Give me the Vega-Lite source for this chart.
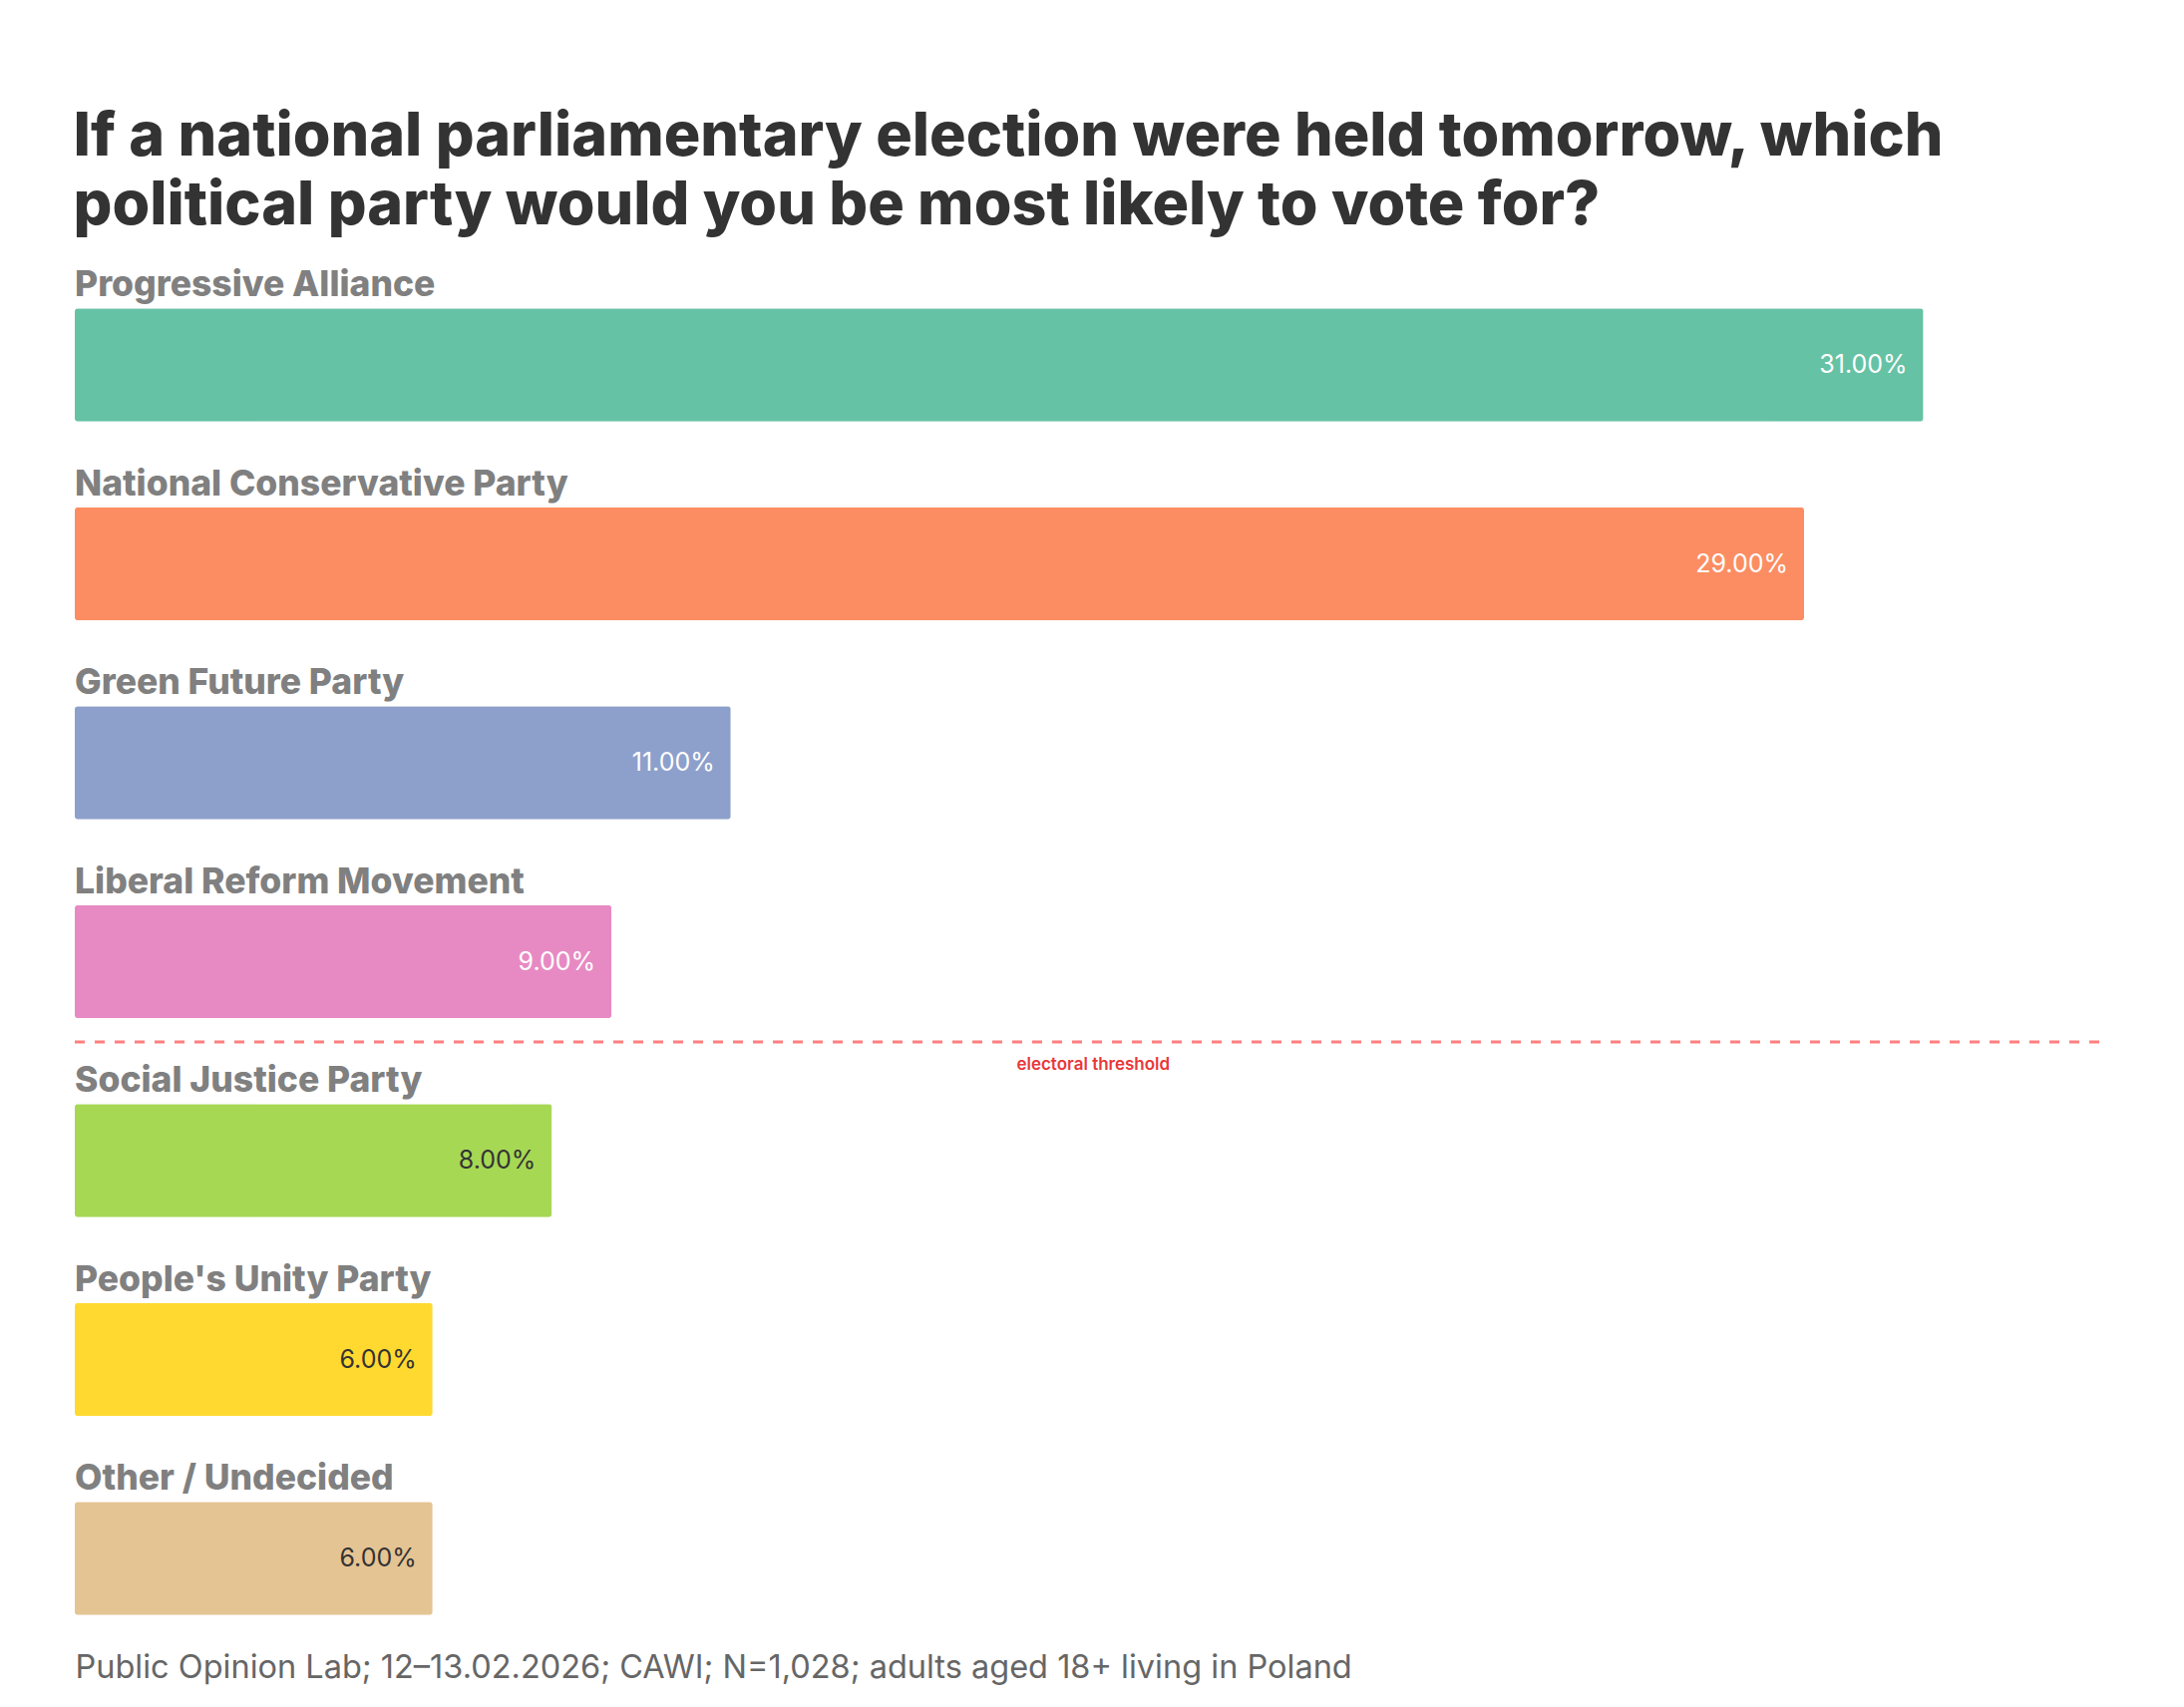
{
  "$schema": "https://vega.github.io/schema/vega-lite/v6.json",
  "width": 2030,
  "height": 1396.5,
  "autosize": {"type": "none"},
  "padding": {"left": 75, "top": 266.25, "right": 85, "bottom": 49.25},
  "background": "white",
  "title": {
    "text": ["If a national parliamentary election were held tomorrow, which", "political party would you be most likely to vote for?"],
    "anchor": "start",
    "font": "Inter",
    "fontSize": 61,
    "fontWeight": 800,
    "color": "#333333",
    "lineHeight": 69,
    "offset": 28
  },
  "config": {"view": {"stroke": null}, "font": "Inter"},
  "data": {
    "values": [
      {"party": "Progressive Alliance", "share": 0.31},
      {"party": "National Conservative Party", "share": 0.29},
      {"party": "Green Future Party", "share": 0.11},
      {"party": "Liberal Reform Movement", "share": 0.09},
      {"party": "Social Justice Party", "share": 0.08},
      {"party": "People's Unity Party", "share": 0.06},
      {"party": "Other / Undecided", "share": 0.06}
    ]
  },
  "layer": [
    {
      "mark": {"type": "bar", "height": {"band": 0.568}, "cornerRadius": 3},
      "encoding": {
        "y": {
          "field": "party", "type": "nominal", "sort": null,
          "scale": {
            "domain": ["Progressive Alliance", "National Conservative Party", "Green Future Party", "Liberal Reform Movement", "Social Justice Party", "People's Unity Party", "Other / Undecided"],
            "paddingInner": 0, "paddingOuter": 0
          },
          "axis": null
        },
        "x": {
          "field": "share", "type": "quantitative",
          "scale": {"domain": [0, 0.3395], "nice": false, "zero": true},
          "axis": {
            "title": "Public Opinion Lab; 12–13.02.2026; CAWI; N=1,028; adults aged 18+ living in Poland",
            "labels": false, "ticks": false, "domain": false, "grid": false,
            "titleAnchor": "start", "titleAlign": "left", "titleX": 0, "titleY": 20,
            "titleBaseline": "alphabetic", "titleFontSize": 32.5, "titleFontWeight": "normal",
            "titleColor": "#666666", "titleFont": "Inter"
          }
        },
        "color": {
          "field": "party", "type": "nominal", "legend": null,
          "scale": {
            "domain": ["Progressive Alliance", "National Conservative Party", "Green Future Party", "Liberal Reform Movement", "Social Justice Party", "People's Unity Party", "Other / Undecided"],
            "range": ["#66c2a5", "#fc8d62", "#8da0cb", "#e78ac3", "#a6d854", "#ffd92f", "#e5c494"]
          }
        }
      }
    },
    {
      "mark": {"type": "text", "align": "left", "baseline": "alphabetic", "dy": -69, "fontSize": 35.5, "fontWeight": 800, "color": "#808080", "font": "Inter"},
      "encoding": {
        "y": {"field": "party", "type": "nominal", "sort": null},
        "x": {"datum": 0},
        "text": {"field": "party"}
      }
    },
    {
      "mark": {"type": "text", "align": "right", "baseline": "middle", "dx": -16, "fontSize": 25, "font": "Inter"},
      "encoding": {
        "y": {"field": "party", "type": "nominal", "sort": null},
        "x": {"field": "share", "type": "quantitative"},
        "text": {"field": "share", "format": ".2%"},
        "color": {"condition": {"test": "datum.share >= 0.09", "value": "white"}, "value": "#333333"}
      }
    },
    {
      "data": {"values": [{"label": "electoral threshold", "above": "Liberal Reform Movement", "below": "Social Justice Party", "center": 0.1708}]},
      "layer": [
        {
          "mark": {"type": "rule", "color": "#ff7f7f", "strokeWidth": 3, "strokeDash": [10, 10]},
          "encoding": {
            "y": {"field": "above", "type": "nominal", "bandPosition": 0.903}
          }
        },
        {
          "mark": {"type": "text", "align": "center", "baseline": "middle", "fontSize": 17, "fontWeight": 600, "color": "#e8383b", "font": "Inter"},
          "encoding": {
            "y": {"field": "below", "type": "nominal", "bandPosition": 0.02},
            "x": {"field": "center", "type": "quantitative"},
            "text": {"field": "label"}
          }
        }
      ]
    }
  ]
}
